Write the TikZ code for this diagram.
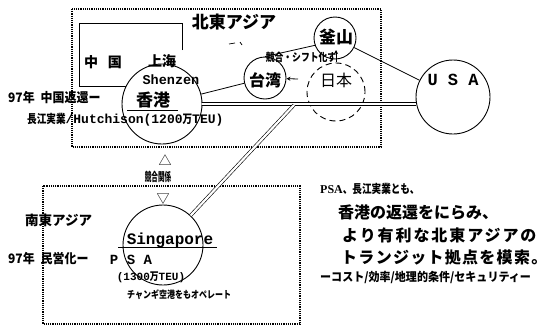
\documentclass[tikz,border=0pt]{standalone}
\usepackage{fontspec}
\setmainfont{Liberation Serif}
\newfontfamily\jp{Noto Sans CJK JP}
\newfontfamily\jpn[FakeStretch=0.8]{Noto Sans CJK JP}
\newfontfamily\jpm[FakeStretch=0.92]{Noto Sans CJK JP}
\newfontfamily\jpx[FakeStretch=0.55]{Noto Sans CJK JP}
\newfontfamily\jpw[LetterSpace=12]{Noto Sans CJK JP}
\newfontfamily\jpv[LetterSpace=8]{Noto Sans CJK JP}
\newfontfamily\mono{Liberation Mono}
\usepackage{tikz}
\usetikzlibrary{positioning,arrows.meta}

\tikzset{
  box/.style={densely dotted, line width=1.2pt},
  port/.style={circle, draw, line width=0.9pt, inner sep=0pt},
  dbl/.style={double, double distance=2.2pt, line width=0.6pt},
  arr/.style={-{Stealth[length=4pt,width=4pt]}, line width=0.8pt},
  lbl/.style={inner sep=0pt},
}

\begin{document}
\begin{tikzpicture}[x=1pt,y=-1pt]
    \useasboundingbox (0,0) rectangle (551,327);
    \draw[box] (72,9) rectangle (381,147); %north east asia%
    \draw[box] (43,186) rectangle (300,324); %south east asia%
    \draw[line width=0.8pt] (182,50) -- (182,23) -- (79,23) -- (79,86) -- (182,86); %china%
    \draw[line width=0.7pt] (229,44) -- (235,43);
    \draw[line width=0.7pt] (240,42) -- (242,45);

    \node[port, fill=white, minimum size=80pt] (hk) at (162,104) {};
    \node[port, minimum size=42pt] (tw) at (265,78) {};
    \node[port, minimum size=42pt] (bs) at (335,38) {};
    \node[port, dash pattern=on 6pt off 4pt, minimum size=58pt] (jpn) at (336,92) {};
    \node[port, minimum size=74pt] (usa) at (453,97) {};
    \node[port, minimum size=80pt] (sg) at (163,245) {};
    \coordinate (jn) at (294,105);
    \coordinate (ja) at (298,79);
    \coordinate (jb) at (336,62);
    \coordinate (jc) at (336,50);

    \draw[line width=0.8pt] (hk) -- (tw);
    \draw[line width=0.8pt] (tw.north) -- (bs.200);
    \draw[line width=0.8pt] (bs) -- (usa);
    \draw[arr] (ja) -- (tw);
    \draw[arr] (jb) -- (jc);
    \draw[dbl] (hk.east) -- (hk.east -| usa.west);
    \draw[dbl] (jn) -- (sg);

    % north %
    \node[lbl, font=\jp\bfseries\fontsize{17}{17}\selectfont] (ne) at (234,22) {北東アジア};
    \node[lbl, font=\jp\bfseries\fontsize{14}{14}\selectfont] (cn) at (103,62) {中\hspace{10pt}国};
    \node[lbl, font=\jp\bfseries\fontsize{14}{14}\selectfont] (sh) at (162,61) {上海};
    \node[lbl, font=\mono\bfseries\fontsize{13.5}{13.5}\selectfont] (sz) at (171,80) {Shenzen};
    \node[lbl, font=\jp\bfseries\fontsize{17}{17}\selectfont] (hkname) at (153,100) {香港};
    \draw[line width=0.8pt] ([xshift=-26pt,yshift=-2pt]hkname.south) -- ([xshift=25pt,yshift=-2pt]hkname.south);
    \node[lbl, anchor=west, font=\jpm\bfseries\fontsize{13}{13}\selectfont] (hk97) at (8,98) {97年\hspace{6pt}中国返還ー};
    \node[lbl, anchor=west, font=\jpn\bfseries\fontsize{12}{12}\selectfont] (hut) at (27,120)
      {長江実業{\mono\fontsize{13}{13}\selectfont/Hutchison(1200}万{\mono\fontsize{13}{13}\selectfont TEU)}};
    \node[lbl, font=\jp\bfseries\fontsize{16}{16}\selectfont] (twname) at (265,80) {台湾};
    \node[lbl, font=\jpn\bfseries\fontsize{11}{11}\selectfont] (shift) at (301,57) {競合・シフト化す};
    \node[lbl, font=\jp\bfseries\fontsize{17}{17}\selectfont] (bsname) at (336,37) {釜山};
    \node[lbl, font=\jp\fontsize{16}{16}\selectfont] (jpname) at (336,80) {日本};
    \node[lbl, font=\mono\bfseries\fontsize{17}{17}\selectfont] (usaname) at (453,80) {U S A};

    % competition %
    \node[lbl, font=\jp\fontsize{13}{13}\selectfont] (up) at (165,160) {△};
    \node[lbl, font=\jpx\bfseries\fontsize{12}{12}\selectfont] (comp) at (158,177) {競合関係};
    \node[lbl, font=\jp\fontsize{13}{13}\selectfont] (down) at (163,199) {▽};

    % south %
    \node[lbl, anchor=west, font=\jp\bfseries\fontsize{13.5}{13.5}\selectfont] (se) at (25,220) {南東アジア};
    \node[lbl, font=\mono\bfseries\fontsize{16}{16}\selectfont] (sgname) at (170,240) {Singapore};
    \draw[line width=0.8pt] (118,247) -- (217,247);
    \node[lbl, anchor=west, font=\jpm\bfseries\fontsize{13}{13}\selectfont] (sg97) at (8,259) {97年\hspace{6pt}民営化ー};
    \node[lbl, font=\mono\bfseries\fontsize{14}{14}\selectfont] (psa) at (131,260) {P S A};
    \node[lbl, font=\mono\bfseries\fontsize{11}{11}\selectfont] (teu) at (151,277) {(1300{\jpn 万}TEU)};
    \node[lbl, anchor=west, font=\jpn\bfseries\fontsize{10}{10}\selectfont] (changi) at (127,295) {チャンギ空港をもオペレート};

    % note %
    \node[lbl, anchor=west, font=\jpn\bfseries\fontsize{12}{12}\selectfont] (n1) at (320,189) {{\rmfamily PSA}、長江実業とも、};
    \node[lbl, anchor=west, font=\jp\bfseries\fontsize{16}{16}\selectfont] (n2) at (338,212) {香港の返還をにらみ、};
    \node[lbl, anchor=west, font=\jpw\bfseries\fontsize{16}{16}\selectfont] (n3) at (342,235) {より有利な北東アジアの};
    \node[lbl, anchor=west, font=\jpv\bfseries\fontsize{16}{16}\selectfont] (n4) at (341,257) {トランジット拠点を模索。};
    \node[lbl, anchor=west, font=\jpm\bfseries\fontsize{12}{12}\selectfont] (n5) at (320,277) {ーコスト/効率/地理的条件/セキュリティー};
\end{tikzpicture}
\end{document}
